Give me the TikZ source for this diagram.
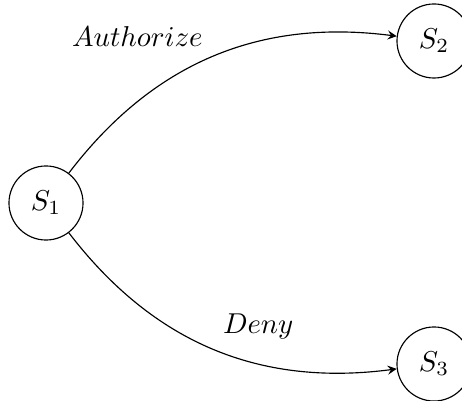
\documentclass[tikz,border=0pt]{standalone}
\usetikzlibrary{arrows}
\begin{document}
\begin{tikzpicture}[x=0.01224cm, y=-0.01224cm, >=stealth,
  state/.style={draw, circle, minimum size=0.906cm, inner sep=0pt},
  trans/.style={->}]
  \useasboundingbox (0,0) rectangle (462,401);
  \node[state] (s1) at (46,203) {$S_1$};
  \node[state] (s2) at (434,41) {$S_2$};
  \node[state] (s3) at (434,364) {$S_3$};
  \draw[trans] (s1) to[bend left=30] node[above left] {$Authorize$} (s2);
  \draw[trans] (s1) to[bend right=30] node[above right] {$Deny$} (s3);
\end{tikzpicture}
\end{document}
